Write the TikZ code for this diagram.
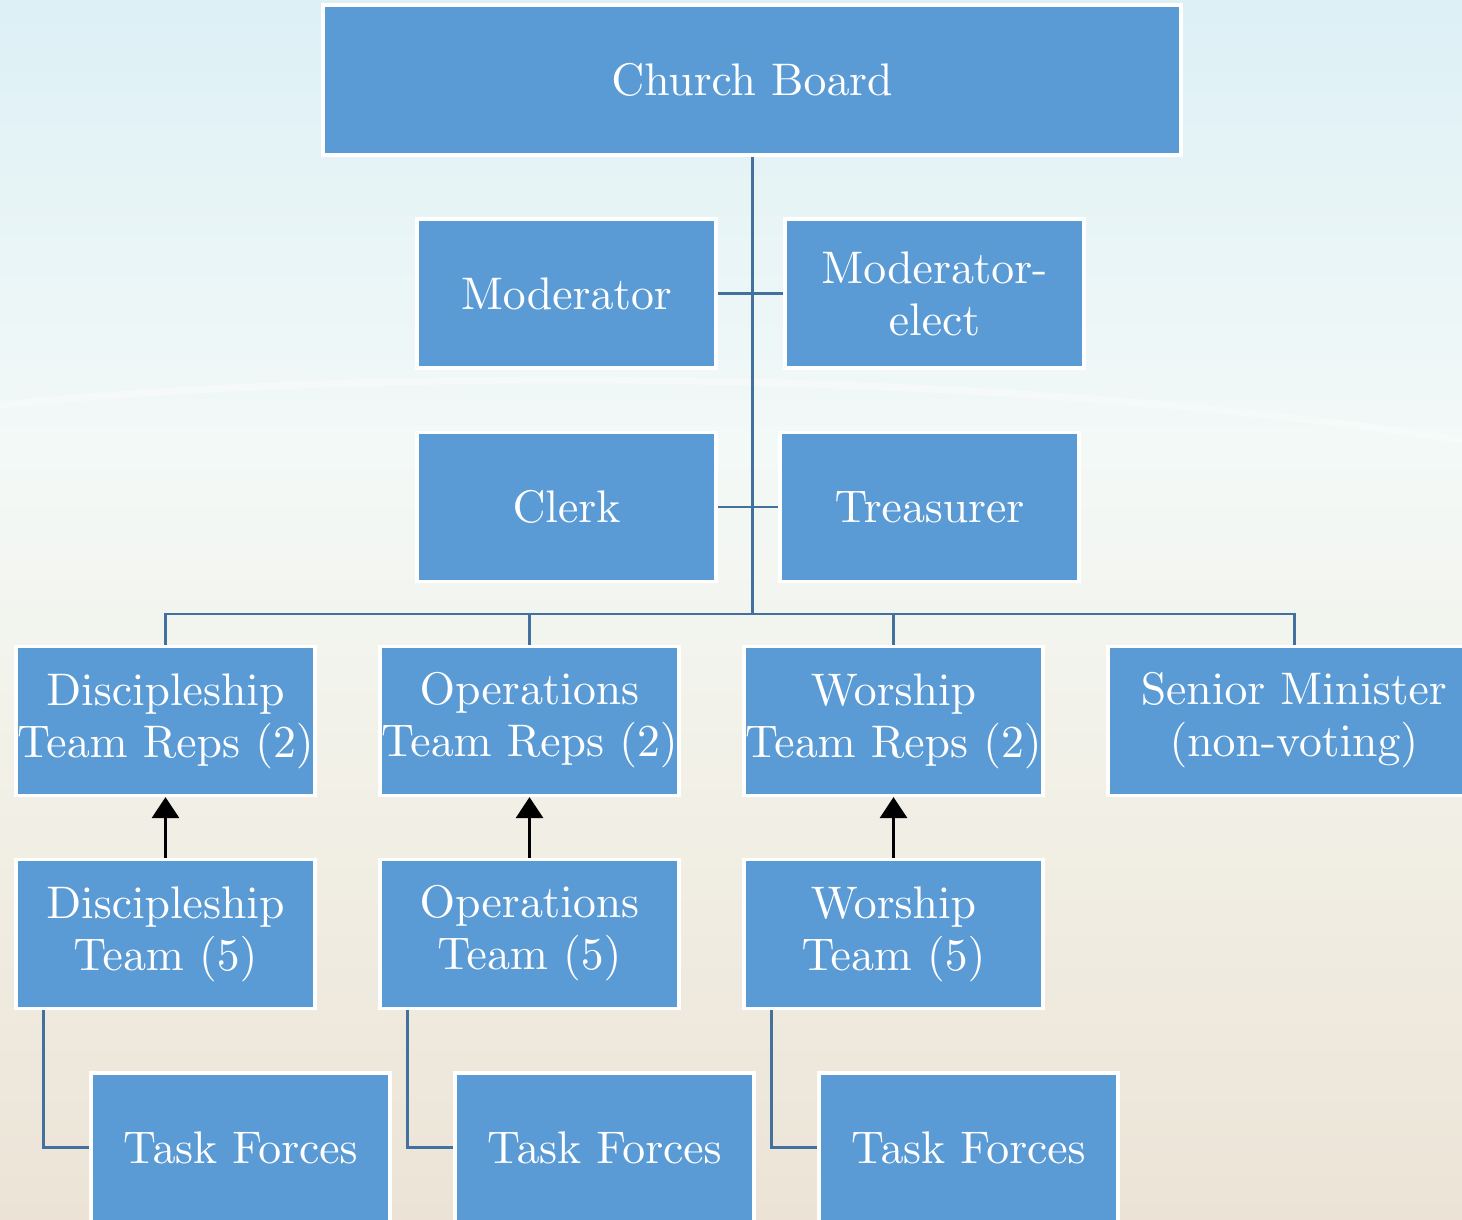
\documentclass[tikz,border=0pt]{standalone}
\usetikzlibrary{arrows.meta}
\definecolor{boxblue}{RGB}{91,155,213}
\definecolor{linkblue}{RGB}{65,113,156}
\definecolor{skytop}{RGB}{221,240,246}
\definecolor{skymid}{RGB}{243,249,247}
\definecolor{sandmid}{RGB}{242,241,232}
\definecolor{sandbot}{RGB}{236,227,214}
\font\unitfont=cmr10 at 13pt

\begin{document}
\begin{tikzpicture}[
    unit/.style={rectangle, fill=boxblue, draw=white, line width=.9pt,
      minimum width=2.99cm, minimum height=1.49cm, inner sep=0pt,
      text=white, align=center, font=\fontsize{13}{14.8}\selectfont\unitfont},
    link/.style={draw=linkblue, line width=.85pt},
    feed/.style={draw=black, line width=.85pt, -{Triangle[width=.27cm,length=.21cm]}}
  ]
  \useasboundingbox (0,0) rectangle (14.62,-12.19);
  % background
  \shade[top color=skytop, bottom color=skymid] (0,0) rectangle (14.62,-4.5);
  \shade[top color=skymid, bottom color=sandmid] (0,-4.5) rectangle (14.62,-7.5);
  \shade[top color=sandmid, bottom color=sandbot] (0,-7.5) rectangle (14.62,-12.19);
  \draw[white, line width=2pt, opacity=.35] (0,-4.05) .. controls (4,-3.65) and (10,-3.7) .. (14.62,-4.4);

  % board and officers
  \node[unit, minimum width=8.58cm, minimum height=1.5cm] (board) at (7.52,-.80) {Church Board};
  \node[unit] (mod) at (5.665,-2.935) {Moderator};
  \node[unit] (modelect) at (9.345,-2.935) {Moderator-\\elect};
  \node[unit] (clerk) at (5.665,-5.07) {Clerk};
  \node[unit] (treas) at (9.295,-5.07) {Treasurer};

  % team reps
  \node[unit] (discreps) at (1.655,-7.21) {Discipleship\\Team Reps (2)};
  \node[unit] (opreps) at (5.295,-7.21) {Operations\\Team Reps (2)};
  \node[unit] (worreps) at (8.935,-7.21) {Worship\\Team Reps (2)};
  \node[unit, minimum width=3.72cm] (senior) at (12.94,-7.21) {Senior Minister\\(non-voting)};

  % teams
  \node[unit] (discteam) at (1.655,-9.34) {Discipleship\\Team (5)};
  \node[unit] (opteam) at (5.295,-9.34) {Operations\\Team (5)};
  \node[unit] (worteam) at (8.935,-9.34) {Worship\\Team (5)};

  % task forces
  \node[unit] (disctf) at (2.405,-11.475) {Task Forces};
  \node[unit] (optf) at (6.045,-11.475) {Task Forces};
  \node[unit] (wortf) at (9.685,-11.475) {Task Forces};

  % connectors
  \coordinate (bus) at (7.52,-6.14);
  \draw[link] (board.south) -- (bus);
  \draw[link] (mod.east) -- (modelect.west);
  \draw[link] (clerk.east) -- (treas.west);
  \draw[link] (discreps.north) |- (bus) -| (senior.north);
  \draw[link] (opreps.north) -- (opreps.north |- bus);
  \draw[link] (worreps.north) -- (worreps.north |- bus);

  \draw[feed] (discteam.north) -- (discreps.south);
  \draw[feed] (opteam.north) -- (opreps.south);
  \draw[feed] (worteam.north) -- (worreps.south);

  \draw[link] ([xshift=.29cm]discteam.south west) |- (disctf.west);
  \draw[link] ([xshift=.29cm]opteam.south west) |- (optf.west);
  \draw[link] ([xshift=.29cm]worteam.south west) |- (wortf.west);
\end{tikzpicture}
\end{document}
